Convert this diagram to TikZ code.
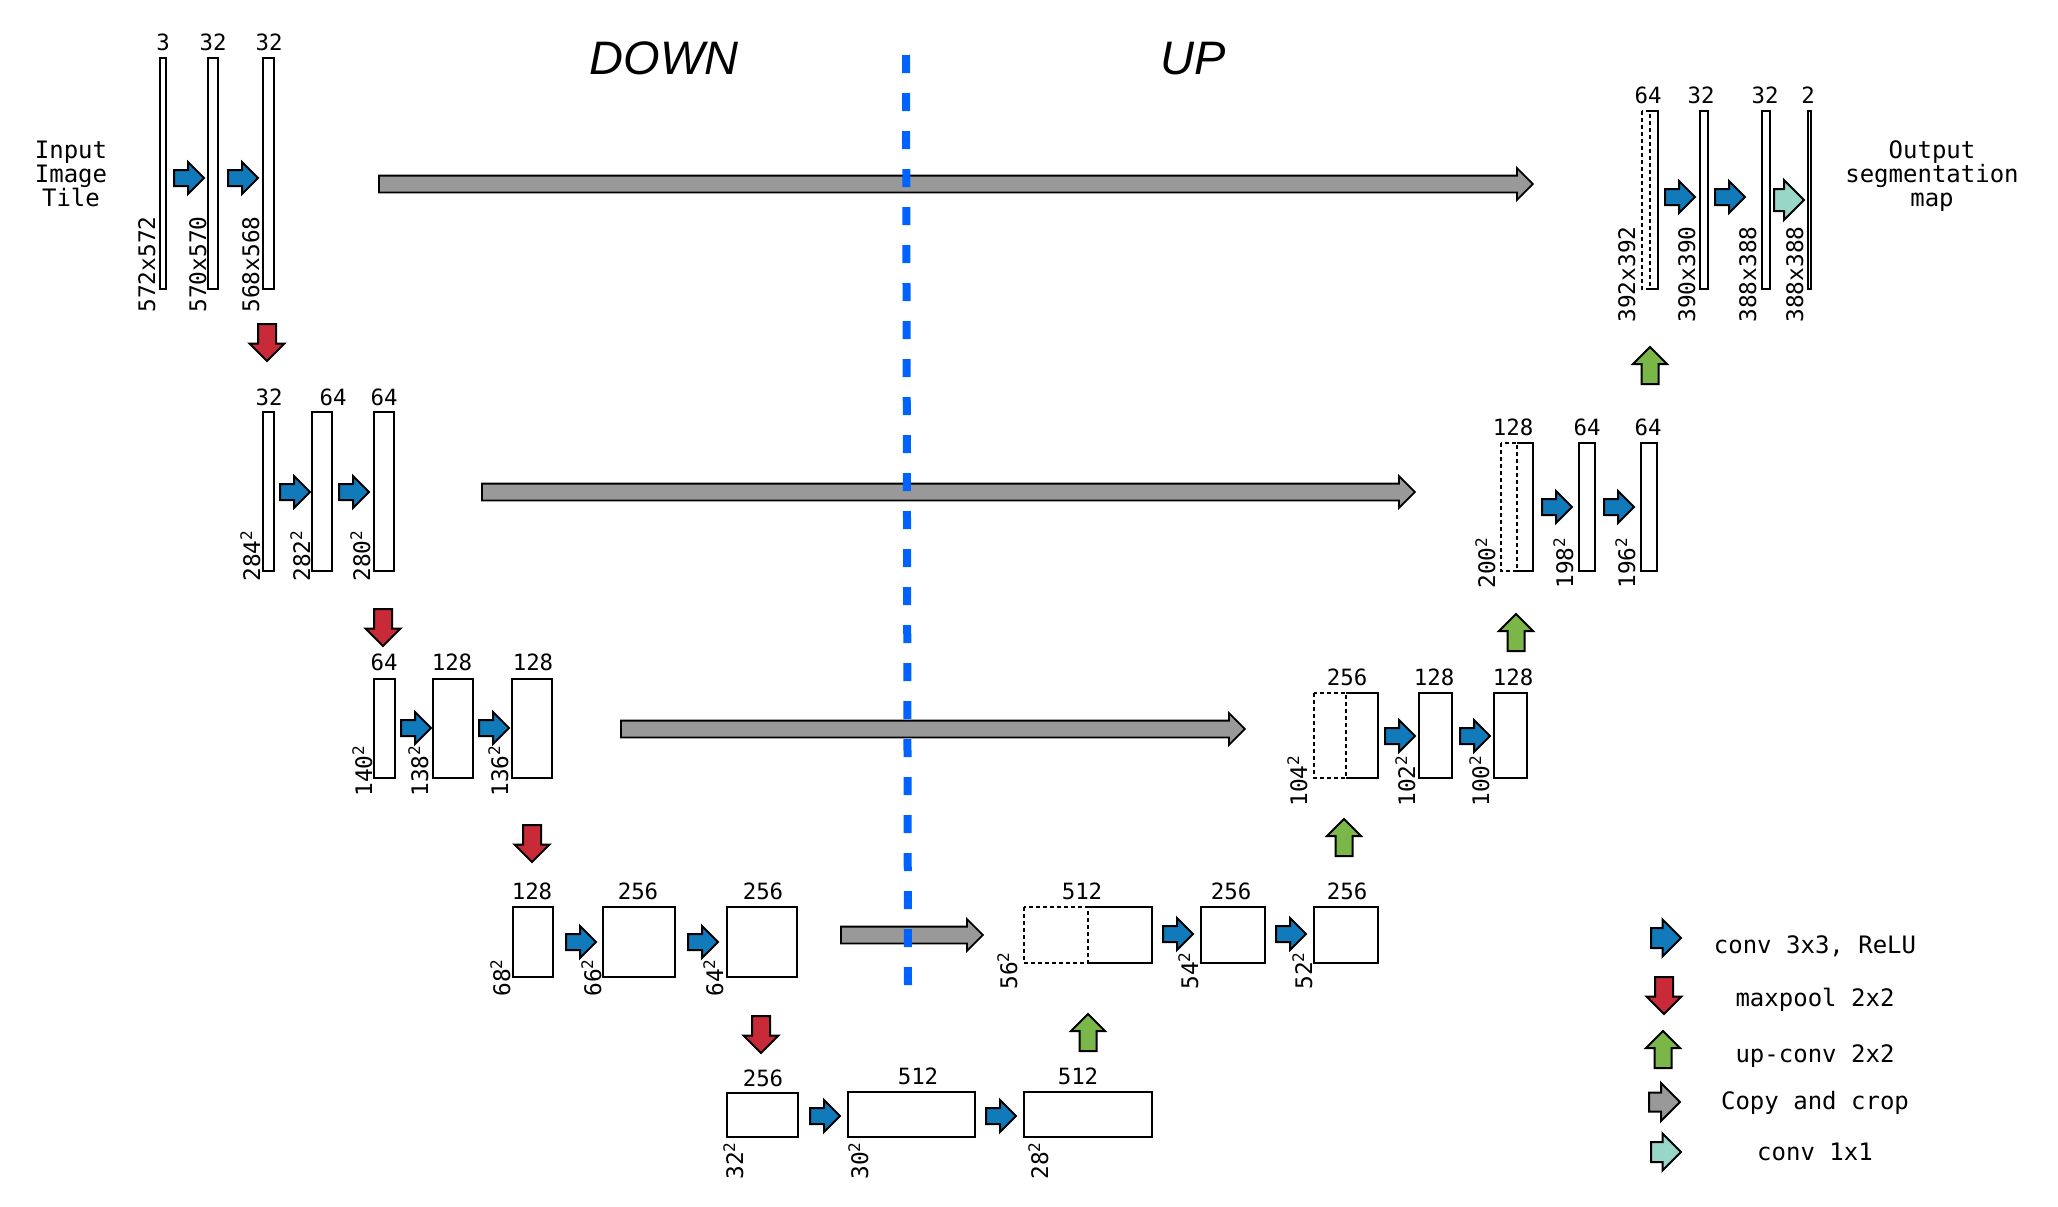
\documentclass[tikz,border=0pt]{standalone}
\usepackage{fontspec}
\setmainfont{Liberation Sans}
\setmonofont{DejaVu Sans Mono}
\usetikzlibrary{shapes.arrows}

\definecolor{convblue}{RGB}{16,122,186}
\definecolor{poolred}{RGB}{200,42,56}
\definecolor{upgreen}{RGB}{122,182,72}
\definecolor{copygrey}{RGB}{153,153,153}
\definecolor{outteal}{RGB}{152,214,200}
\definecolor{splitblue}{RGB}{0,98,255}

\newcommand{\sq}[1]{#1\textsuperscript{2}}

\tikzset{
  blk/.style={draw,line width=0.75pt,fill=white},
  crop/.style={draw,line width=0.75pt,dash pattern=on 2pt off 1.5pt},
  chan/.style={font=\ttfamily\fontsize{11.2}{12}\selectfont,anchor=base,inner sep=0pt},
  dims/.style={font=\ttfamily\fontsize{11.4}{12}\selectfont,rotate=90,anchor=base west,inner sep=0pt},
  txt/.style={font=\ttfamily\fontsize{12}{12.2}\selectfont,inner sep=0pt},
  side/.style={font=\itshape\fontsize{23.5}{24}\selectfont,anchor=base,inner sep=0pt},
  blockarrow/.style={single arrow,draw,line width=1pt,inner xsep=0pt,minimum width=0pt,anchor=tail},
  convarrow/.style={blockarrow,fill=convblue,inner ysep=3.5pt,single arrow head extend=4pt,minimum height=15pt},
  poolarrow/.style={blockarrow,fill=poolred,rotate=-90,inner ysep=4pt,single arrow head extend=4.2pt,minimum height=18.5pt},
  uparrow/.style={blockarrow,fill=upgreen,rotate=90,inner ysep=3.75pt,single arrow head extend=4.25pt,minimum height=18.5pt},
  copyarrow/.style={blockarrow,fill=copygrey,line width=0.9pt,inner ysep=3.75pt,single arrow head extend=3.75pt},
  outarrow/.style={blockarrow,fill=outteal,inner ysep=5pt,single arrow head extend=4.5pt,minimum height=15pt},
  midline/.style={splitblue,line width=4pt,dash pattern=on 9pt off 10pt}
}

\begin{document}
\begin{tikzpicture}[x=0.5pt,y=-0.5pt]
  \useasboundingbox (0,0) rectangle (2058,1206);

  % contracting path, level 1
  \node[txt,align=center] (intile) at (71,174) {Input\\Image\\Tile};
  \draw[blk] (160,58) rectangle (166,289);
  \draw[blk] (208,58) rectangle (218,289);
  \draw[blk] (263,58) rectangle (274,289);
  \node[chan] (c11) at (163,50) {3};
  \node[chan] (c12) at (213,50) {32};
  \node[chan] (c13) at (269,50) {32};
  \node[dims] (s11) at (155,313) {572x572};
  \node[dims] (s12) at (206,313) {570x570};
  \node[dims] (s13) at (259,313) {568x568};
  \node[convarrow] (a11) at (173,178) {};
  \node[convarrow] (a12) at (227,178) {};
  \node[poolarrow] (p1) at (267,323) {};
  \node[copyarrow,minimum height=577pt] (k1) at (378,184) {};

  % level 2
  \draw[blk] (263,412) rectangle (274,571);
  \draw[blk] (312,412) rectangle (332,571);
  \draw[blk] (374,412) rectangle (394,571);
  \node[chan] (c21) at (269,405) {32};
  \node[chan] (c22) at (333,405) {64};
  \node[chan] (c23) at (384,405) {64};
  \node[dims] (s21) at (260,582) {\sq{284}};
  \node[dims] (s22) at (310,582) {\sq{282}};
  \node[dims] (s23) at (370,582) {\sq{280}};
  \node[convarrow] (a21) at (279,492) {};
  \node[convarrow] (a22) at (338,492) {};
  \node[poolarrow] (p2) at (383,608) {};
  \node[copyarrow,minimum height=466.5pt] (k2) at (481,492) {};

  % level 3
  \draw[blk] (374,679) rectangle (395,778);
  \draw[blk] (433,679) rectangle (473,778);
  \draw[blk] (512,679) rectangle (552,778);
  \node[chan] (c31) at (384,670) {64};
  \node[chan] (c32) at (452,670) {128};
  \node[chan] (c33) at (533,670) {128};
  \node[dims] (s31) at (372,797) {\sq{140}};
  \node[dims] (s32) at (428,797) {\sq{138}};
  \node[dims] (s33) at (508,797) {\sq{136}};
  \node[convarrow] (a31) at (400,728) {};
  \node[convarrow] (a32) at (478,728) {};
  \node[poolarrow] (p3) at (532,824) {};
  \node[copyarrow,minimum height=312pt] (k3) at (620,729) {};

  % level 4
  \draw[blk] (513,907) rectangle (553,977);
  \draw[blk] (603,907) rectangle (675,977);
  \draw[blk] (727,907) rectangle (797,977);
  \node[chan] (c41) at (532,899) {128};
  \node[chan] (c42) at (638,899) {256};
  \node[chan] (c43) at (763,899) {256};
  \node[dims] (s41) at (510,997) {\sq{68}};
  \node[dims] (s42) at (601,997) {\sq{66}};
  \node[dims] (s43) at (723,997) {\sq{64}};
  \node[convarrow] (a41) at (565,942) {};
  \node[convarrow] (a42) at (687,942) {};
  \node[poolarrow] (p4) at (761,1015) {};
  \node[copyarrow,minimum height=71pt] (k4) at (840,935) {};

  % bottom
  \draw[blk] (727,1093) rectangle (798,1137);
  \draw[blk] (848,1092) rectangle (975,1137);
  \draw[blk] (1024,1092) rectangle (1152,1137);
  \node[chan] (c51) at (763,1086) {256};
  \node[chan] (c52) at (918,1084) {512};
  \node[chan] (c53) at (1078,1084) {512};
  \node[dims] (s51) at (743,1180) {\sq{32}};
  \node[dims] (s52) at (868,1180) {\sq{30}};
  \node[dims] (s53) at (1048,1180) {\sq{28}};
  \node[convarrow] (a51) at (809,1116) {};
  \node[convarrow] (a52) at (985,1116) {};
  \node[uparrow] (u5) at (1088,1052) {};

  % expansive path, level 4
  \draw[crop] (1024,907) rectangle (1088,963);
  \draw[line width=0.75pt] (1088,907) -| (1152,963) -- (1088,963);
  \draw[blk] (1201,907) rectangle (1265,963);
  \draw[blk] (1314,907) rectangle (1378,963);
  \node[chan] (c61) at (1082,899) {512};
  \node[chan] (c62) at (1231,899) {256};
  \node[chan] (c63) at (1347,899) {256};
  \node[dims] (s61) at (1017,990) {\sq{56}};
  \node[dims] (s62) at (1198,990) {\sq{54}};
  \node[dims] (s63) at (1312,990) {\sq{52}};
  \node[convarrow] (a61) at (1162,934) {};
  \node[convarrow] (a62) at (1275,934) {};
  \node[uparrow] (u6) at (1344,857) {};

  % level 3
  \draw[crop] (1314,693) rectangle (1346,778);
  \draw[line width=0.75pt] (1346,693) -| (1378,778) -- (1346,778);
  \draw[blk] (1419,693) rectangle (1452,778);
  \draw[blk] (1494,693) rectangle (1527,778);
  \node[chan] (c71) at (1347,685) {256};
  \node[chan] (c72) at (1434,685) {128};
  \node[chan] (c73) at (1513,685) {128};
  \node[dims] (s71) at (1307,807) {\sq{104}};
  \node[dims] (s72) at (1415,807) {\sq{102}};
  \node[dims] (s73) at (1489,807) {\sq{100}};
  \node[convarrow] (a71) at (1384,736) {};
  \node[convarrow] (a72) at (1459,736) {};
  \node[uparrow] (u7) at (1516,652) {};

  % level 2
  \draw[crop] (1501,443) rectangle (1517,571);
  \draw[line width=0.75pt] (1517,443) -| (1533,571) -- (1517,571);
  \draw[blk] (1579,443) rectangle (1595,571);
  \draw[blk] (1641,443) rectangle (1657,571);
  \node[chan] (c81) at (1513,435) {128};
  \node[chan] (c82) at (1587,435) {64};
  \node[chan] (c83) at (1648,435) {64};
  \node[dims] (s81) at (1495,589) {\sq{200}};
  \node[dims] (s82) at (1573,589) {\sq{198}};
  \node[dims] (s83) at (1635,589) {\sq{196}};
  \node[convarrow] (a81) at (1541,507) {};
  \node[convarrow] (a82) at (1603,507) {};
  \node[uparrow] (u8) at (1650,385) {};

  % level 1
  \draw[crop] (1642,111) rectangle (1650,289);
  \draw[line width=0.75pt] (1650,111) -| (1658,289) -- (1650,289);
  \draw[blk] (1700,111) rectangle (1708,289);
  \draw[blk] (1762,111) rectangle (1770,289);
  \draw[blk] (1808,111) rectangle (1811,289);
  \node[chan] (c91) at (1648,103) {64};
  \node[chan] (c92) at (1701,103) {32};
  \node[chan] (c93) at (1765,103) {32};
  \node[chan] (c94) at (1808,103) {2};
  \node[dims] (s91) at (1635,323) {392x392};
  \node[dims] (s92) at (1695,323) {390x390};
  \node[dims] (s93) at (1756,323) {388x388};
  \node[dims] (s94) at (1803,323) {388x388};
  \node[convarrow] (a91) at (1664,197) {};
  \node[convarrow] (a92) at (1714,197) {};
  \node[outarrow] (o9) at (1773,200) {};
  \node[txt,align=center] (outmap) at (1932,176) {Output\\segmentation\\map};

  % split line
  \node[side] (down) at (664,74) {DOWN};
  \node[side] (up) at (1193,74) {UP};
  \draw[midline] (906,55) -- (908,987);

  % legend
  \node[convarrow,inner ysep=4.5pt,single arrow head extend=4.25pt] (lg1) at (1650,938) {};
  \node[poolarrow] (lg2) at (1664,976) {};
  \node[uparrow] (lg3) at (1663,1069) {};
  \node[copyarrow,line width=1pt,inner ysep=4.25pt,single arrow head extend=4.75pt,minimum height=15.5pt] (lg4) at (1648,1102) {};
  \node[outarrow,inner ysep=4.5pt,single arrow head extend=4.25pt] (lg5) at (1650,1152) {};
  \node[txt,anchor=base] (lt1) at (1815,953) {conv 3x3, ReLU};
  \node[txt,anchor=base] (lt2) at (1815,1006) {maxpool 2x2};
  \node[txt,anchor=base] (lt3) at (1815,1062) {up-conv 2x2};
  \node[txt,anchor=base] (lt4) at (1815,1109) {Copy and crop};
  \node[txt,anchor=base] (lt5) at (1815,1160) {conv 1x1};
\end{tikzpicture}
\end{document}
